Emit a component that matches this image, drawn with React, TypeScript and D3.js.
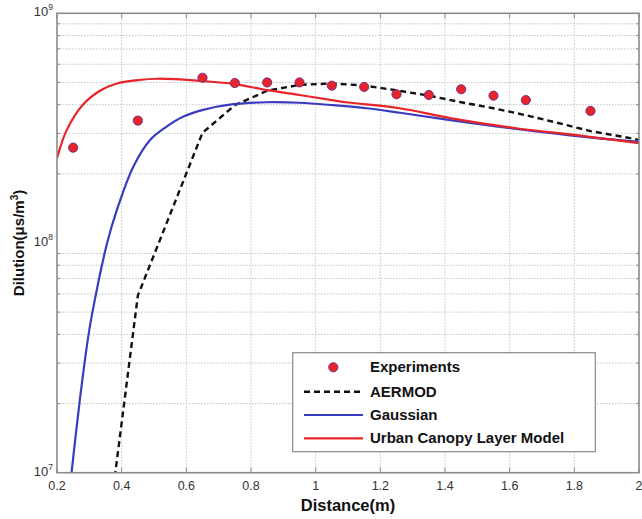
import React from "react";
import * as d3 from "d3";

// Experimental dilution measurements
const expDistance = [0.25, 0.45, 0.65, 0.75, 0.85, 0.95, 1.05, 1.15, 1.25, 1.35, 1.45, 1.55, 1.65, 1.85];
const expDilution = [2.6e8, 3.41e8, 5.24e8, 4.97e8, 5.0e8, 5.0e8, 4.84e8, 4.78e8, 4.44e8, 4.41e8, 4.67e8, 4.38e8, 4.19e8, 3.76e8];

// AERMOD prediction
const aermodDistance = [0.25, 0.45, 0.65, 0.75, 0.85, 0.95, 1.05, 1.15, 1.25, 1.35, 1.45, 1.55, 1.65, 1.75, 1.85, 1.95, 2.0];
const aermodDilution = [3.6e5, 5.9e7, 3.02e8, 3.98e8, 4.6e8, 4.88e8, 4.95e8, 4.85e8, 4.62e8, 4.38e8, 4.1e8, 3.86e8, 3.6e8, 3.33e8, 3.07e8, 2.9e8, 2.81e8];

// Gaussian plume model
const gaussDistance = [0.245, 0.2563, 0.2705, 0.295, 0.307, 0.355, 0.385, 0.436, 0.488, 0.539, 0.591, 0.652, 0.745, 0.848, 0.95, 1.055, 1.158, 1.261, 1.416, 1.62, 1.83, 2.0];
const gaussDilution = [1e7, 1.39e7, 2.07e7, 3.78e7, 4.78e7, 1e8, 1.39e8, 2.15e8, 2.81e8, 3.21e8, 3.55e8, 3.8e8, 4.02e8, 4.1e8, 4.08e8, 3.98e8, 3.86e8, 3.69e8, 3.43e8, 3.14e8, 2.9e8, 2.76e8];

// Urban canopy layer model
const uclDistance = [0.2, 0.23, 0.28, 0.333, 0.385, 0.45, 0.51, 0.65, 0.75, 0.85, 0.95, 1.05, 1.1, 1.26, 1.42, 1.62, 1.83, 2.0];
const uclDilution = [2.34e8, 3.1e8, 4.0e8, 4.6e8, 4.95e8, 5.12e8, 5.19e8, 5.07e8, 4.92e8, 4.63e8, 4.41e8, 4.19e8, 4.09e8, 3.86e8, 3.49e8, 3.16e8, 2.92e8, 2.72e8];

const xTicks = [0.2, 0.4, 0.6, 0.8, 1, 1.2, 1.4, 1.6, 1.8, 2];
const xTickLabels = ["0.2", "0.4", "0.6", "0.8", "1", "1.2", "1.4", "1.6", "1.8", "2"];
const yDecades = [1e7, 1e8, 1e9];
const yDecadeExponents = ["7", "8", "9"];

const legendLabels = ["Experiments", "AERMOD", "Gaussian", "Urban Canopy Layer Model"];

const W = 642;
const H = 519;
const left = 57;
const right = 639;
const top = 13.3;
const bottom = 472.7;

const RED = "#e8242a";
const BLUE = "#3a3cc0";
const AXIS = "#8a8a8a";
const GRID = "#c4c4c4";
const FONT = "'Liberation Sans', Arial, sans-serif";

export default function App() {
  const x = d3.scaleLinear().domain([0.2, 2]).range([left, right]);
  const y = d3.scaleLog().domain([1e7, 1e9]).range([bottom, top]);

  const minorY: number[] = [];
  [1e7, 1e8].forEach((d) => {
    for (let k = 2; k <= 9; k++) minorY.push(d * k);
  });

  const line = (xs: number[], ys: number[], curve: d3.CurveFactory) =>
    d3
      .line<number>()
      .x((_, i) => x(xs[i]))
      .y((_, i) => y(ys[i]))
      .curve(curve)(xs) || "";

  const smooth = d3.curveCatmullRom.alpha(0.5);
  const uclPath = line(uclDistance, uclDilution, smooth);
  const gaussPath = line(gaussDistance, gaussDilution, smooth);
  const aermodPath = line(aermodDistance, aermodDilution, d3.curveLinear);

  const legX = 292.7;
  const legY = 352.7;
  const legW = 302.6;
  const legH = 99;
  const rowY = [367.3, 391.7, 415, 438.3];

  return (
    <div style={{ position: "absolute", left: 0, top: 0 }}>
      <svg width={W} height={H} viewBox={`0 0 ${W} ${H}`} style={{ display: "block", background: "#fff" }}>
        <defs>
          <clipPath id="plotClip">
            <rect x={left} y={top} width={right - left} height={bottom - top} />
          </clipPath>
        </defs>

        {/* grid */}
        <g stroke={GRID} strokeWidth={1} strokeDasharray="1.5,1.5">
          {xTicks.slice(1, -1).map((t) => (
            <line key={"gx" + t} x1={x(t)} x2={x(t)} y1={top} y2={bottom} />
          ))}
          {minorY.map((v) => (
            <line key={"gy" + v} x1={left} x2={right} y1={y(v)} y2={y(v)} />
          ))}
        </g>

        {/* tick marks */}
        <g stroke={AXIS} strokeWidth={1}>
          {xTicks.map((t) => (
            <g key={"tx" + t}>
              <line x1={x(t)} x2={x(t)} y1={bottom} y2={bottom - 5} />
              <line x1={x(t)} x2={x(t)} y1={top} y2={top + 5} />
            </g>
          ))}
          {minorY.map((v) => (
            <g key={"ty" + v}>
              <line x1={left} x2={left + (v === 1e8 ? 5 : 3)} y1={y(v)} y2={y(v)} />
              <line x1={right} x2={right - (v === 1e8 ? 5 : 3)} y1={y(v)} y2={y(v)} />
            </g>
          ))}
        </g>

        {/* data */}
        <g clipPath="url(#plotClip)" fill="none" strokeLinejoin="round">
          <path d={aermodPath} stroke="#111" strokeWidth={2.4} strokeDasharray="6,4" />
          <path d={gaussPath} stroke={BLUE} strokeWidth={2.2} />
          <path d={uclPath} stroke={RED} strokeWidth={2.2} />
          {expDistance.map((d, i) => (
            <circle key={"e" + i} cx={x(d)} cy={y(expDilution[i])} r={4.6} fill={RED} stroke="#6a2a8a" strokeWidth={0.9} />
          ))}
        </g>

        {/* axis box */}
        <rect x={left} y={top} width={right - left} height={bottom - top} fill="none" stroke={AXIS} strokeWidth={1.6} />

        {/* x tick labels */}
        <g fontFamily={FONT} fontSize={12.5} fill="#333" textAnchor="middle">
          {xTicks.map((t, i) => (
            <text key={"lx" + t} x={x(t)} y={490}>
              {xTickLabels[i]}
            </text>
          ))}
        </g>

        {/* y tick labels */}
        <g fontFamily={FONT} fill="#333">
          {yDecades.map((v, i) => (
            <text key={"ly" + v} x={left - 4} y={y(v) + 3} textAnchor="end" fontSize={13}>
              10
              <tspan dy={-6} fontSize={8.5}>
                {yDecadeExponents[i]}
              </tspan>
            </text>
          ))}
        </g>

        {/* axis titles */}
        <text x={(left + right) / 2} y={511} textAnchor="middle" fontFamily={FONT} fontWeight="bold" fontSize={16.5} fill="#111">
          Distance(m)
        </text>
        <text
          transform={`translate(24,243) rotate(-90)`}
          textAnchor="middle"
          fontFamily={FONT}
          fontWeight="bold"
          fontSize={15}
          fill="#111"
        >
          Dilution(μs/m
          <tspan dy={-6} fontSize={10}>
            3
          </tspan>
          <tspan dy={6}>)</tspan>
        </text>

        {/* legend */}
        <rect x={legX} y={legY} width={legW} height={legH} fill="#fff" stroke={AXIS} strokeWidth={1.2} />
        <g fontFamily={FONT} fontWeight="bold" fontSize={15} fill="#111">
          <circle cx={333.3} cy={rowY[0]} r={4.6} fill={RED} stroke="#6a2a8a" strokeWidth={0.9} />
          <line x1={304} x2={363} y1={rowY[1]} y2={rowY[1]} stroke="#111" strokeWidth={2.4} strokeDasharray="6,4" />
          <line x1={304} x2={363} y1={rowY[2]} y2={rowY[2]} stroke={BLUE} strokeWidth={2.2} />
          <line x1={304} x2={363} y1={rowY[3]} y2={rowY[3]} stroke={RED} strokeWidth={2.2} />
          {legendLabels.map((l, i) => (
            <text key={l} x={370} y={rowY[i] + 5}>
              {l}
            </text>
          ))}
        </g>
      </svg>
    </div>
  );
}
